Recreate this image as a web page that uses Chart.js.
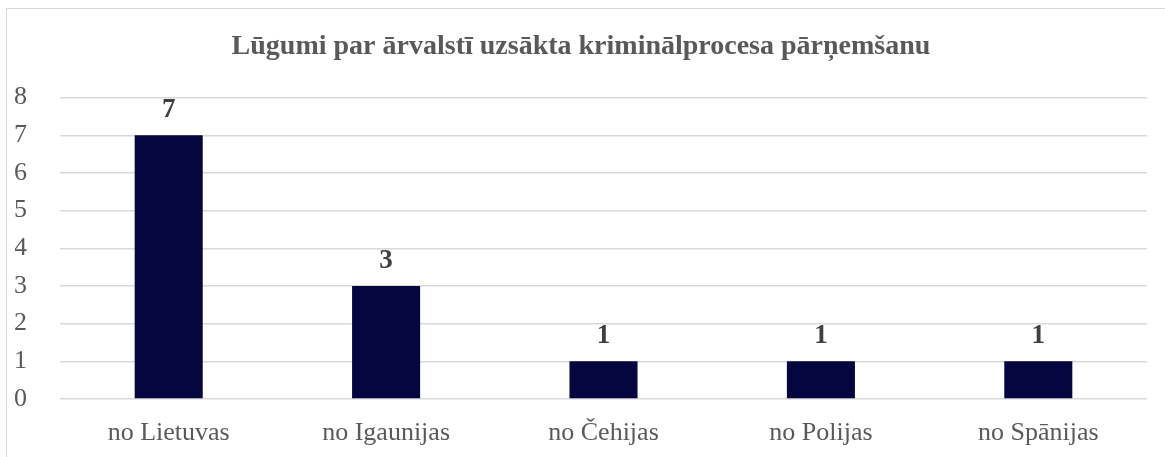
<!DOCTYPE html>
<html>
<head>
<meta charset="utf-8">
<script src="https://cdn.jsdelivr.net/npm/chart.js@4/dist/chart.umd.min.js"></script>
<style>
  html, body { margin: 0; padding: 0; background: #fff; }
  #wrap { position: relative; width: 1165px; height: 457px; }
  #frame { position: absolute; left: 6px; top: 8px; right: -2px; bottom: -2px;
           border-left: 1px solid #d9d9d9; border-top: 1px solid #d9d9d9; }
  canvas { position: absolute; left: 0; top: 0; }
</style>
</head>
<body>
<div id="wrap">
  <div id="frame"></div>
  <canvas id="chart" width="1165" height="457"></canvas>
</div>
<script>
// Lūgumi par ārvalstī uzsākta kriminālprocesa pārņemšanu
var categories = ['no Lietuvas', 'no Igaunijas', 'no Čehijas', 'no Polijas', 'no Spānijas'];
var values = [7, 3, 1, 1, 1];
var barColor = '#05053f';
var serif = "'Liberation Serif', 'Times New Roman', serif";

// labels above each bar
var barLabels = {
    id: 'barLabels',
    afterDatasetsDraw: function (chart) {
        var ctx = chart.ctx;
        var meta = chart.getDatasetMeta(0);
        ctx.save();
        ctx.font = 'bold 27px ' + serif;
        ctx.fillStyle = '#404040';
        ctx.textAlign = 'center';
        ctx.textBaseline = 'middle';
        meta.data.forEach(function (bar, i) {
            ctx.fillText(values[i], bar.x, bar.y - 25);
        });
        ctx.restore();
    }
};

var ctx = document.getElementById('chart').getContext('2d');
var chart = new Chart(ctx, {
    type: 'bar',
    data: {
        labels: categories,
        datasets: [{
            data: values,
            backgroundColor: barColor,
            categoryPercentage: 1,
            barPercentage: 0.313
        }]
    },
    options: {
        responsive: false,
        animation: false,
        layout: { padding: { left: 15, right: 18, top: 30, bottom: 0 } },
        plugins: {
            legend: { display: false },
            tooltip: { enabled: false },
            title: {
                display: true,
                text: 'Lūgumi par ārvalstī uzsākta kriminālprocesa pārņemšanu',
                color: '#595959',
                font: { family: serif, size: 28, weight: 'bold', lineHeight: 1.2 },
                padding: { top: 0, bottom: 34 }
            }
        },
        scales: {
            x: {
                grid: { display: false, drawTicks: false },
                border: { display: false },
                ticks: { color: '#595959', font: { family: serif, size: 26 }, padding: 19 },
                afterFit: function (scale) { scale.height = 58; }
            },
            y: {
                min: 0,
                max: 8,
                grid: { color: '#d9d9d9', lineWidth: 1.5, drawTicks: false },
                border: { display: false },
                ticks: { stepSize: 1, color: '#595959', font: { family: serif, size: 26 }, padding: 33 },
                afterFit: function (scale) { scale.width = 45; }
            }
        }
    },
    plugins: [barLabels]
});
</script>
</body>
</html>
